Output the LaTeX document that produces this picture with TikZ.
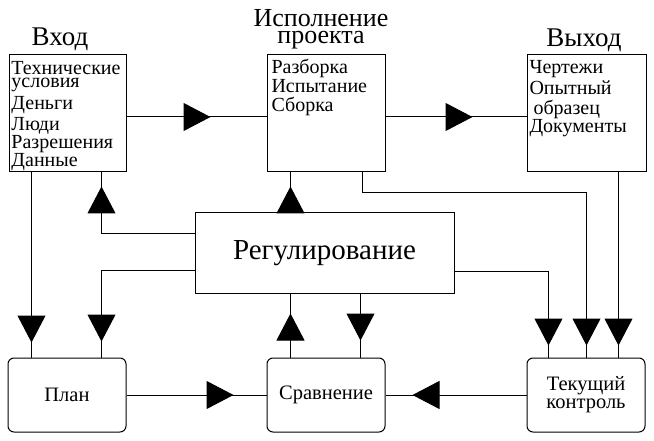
\documentclass[tikz,border=0pt]{standalone}
\usepackage{fontspec}
\setmainfont{Liberation Serif}
\usetikzlibrary{arrows.meta,decorations.markings}
\begin{document}
\begin{tikzpicture}[x=1pt,y=-1pt,line width=1pt,
  sqbox/.style={draw,inner sep=0pt,minimum width=118pt,minimum height=117pt},
  rbox/.style={draw,rounded corners=6pt,inner sep=0pt,minimum width=118pt,minimum height=74pt,align=center,font=\fontsize{20.5}{18}\selectfont},
  regbox/.style={draw,inner sep=0pt,minimum width=259pt,minimum height=80pt,font=\fontsize{29}{30}\selectfont},
  txt/.style={inner sep=0pt,anchor=base west,align=left,font=\fontsize{20}{20}\selectfont},
  ttl/.style={inner sep=0pt,anchor=base,align=center,font=\fontsize{27}{17}\selectfont},
  arr/.style={postaction={decorate},decoration={markings,mark=at position #1 with {\arrow{Triangle[width=28pt,length=27pt]}}}}
]
\useasboundingbox (0,0) rectangle (654,441);

% boxes
\node[sqbox,minimum width=117pt] (in) at (67.5,113.5) {};
\node[sqbox] (exec) at (326,113.5) {};
\node[sqbox,minimum width=119pt] (out) at (586.5,113.5) {};
\node[regbox] (reg) at (324.5,253) {Регулирование};
\node[rbox] (plan) at (67,395) {План};
\node[rbox] (comp) at (326,395) {Сравнение};
\node[rbox] (tek) at (586,395) {Текущий\\контроль};

% titles (anchor = baseline of last line)
\node[ttl] (tin) at (60,46) {Вход};
\node[ttl,font=\fontsize{26}{17}\selectfont] (texec) at (321,44) {Исполнение\\проекта};
\node[ttl] (tout) at (584,47) {Выход};

% contents (anchor = baseline of last line)
\node[txt] (cin) at (11,167) {Технические\\[-7pt]условия\\[2pt]Деньги\\[1pt]Люди\\[-2pt]Разрешения\\[-2pt]Данные};
\node[txt,font=\fontsize{20}{19}\selectfont] (cexec) at (271,112) {Разборка\\Испытание\\Сборка};
\node[txt] (cout) at (529,133) {Чертежи\\[1pt]Опытный\\\hspace*{4pt}образец\\[-2pt]Документы};

% connectors
\draw[arr=84pt] ([yshift=-3.5pt]in.east) -- ([yshift=-3.5pt]exec.west);
\draw[arr=87pt] ([yshift=-3.5pt]exec.east) -- ([yshift=-3.5pt]out.west);
\draw[arr=170pt] ([xshift=23pt]in.south west) -- ([xshift=24pt]plan.north west);
\draw[arr=140pt] ([yshift=-21pt]reg.north west) -| ([xshift=93pt]in.south west);
\draw[arr=164pt] ([yshift=-58pt]reg.north west) -| ([xshift=94pt]plan.north west);
\draw[arr=26pt] ([xshift=96pt]reg.north west) -- ([xshift=24pt]exec.south west);
\draw[arr=397pt] ([xshift=96pt]exec.south west) -- ++(0,20) -| ([xshift=60pt]tek.north west);
\draw[arr=173pt] ([xshift=92pt]out.south west) -- ([xshift=92pt]tek.north west);
\draw[arr=168pt] ([yshift=-59pt]reg.north east) -| ([xshift=22pt]tek.north west);
\draw[arr=44pt] ([xshift=24pt]comp.north west) -- ([xshift=96pt]reg.south west);
\draw[arr=47pt] ([xshift=166pt]reg.south west) -- ([xshift=94pt]comp.north west);
\draw[arr=107pt] (plan.east) -- (comp.west);
\draw[arr=114pt] (tek.west) -- (comp.east);
\end{tikzpicture}
\end{document}
